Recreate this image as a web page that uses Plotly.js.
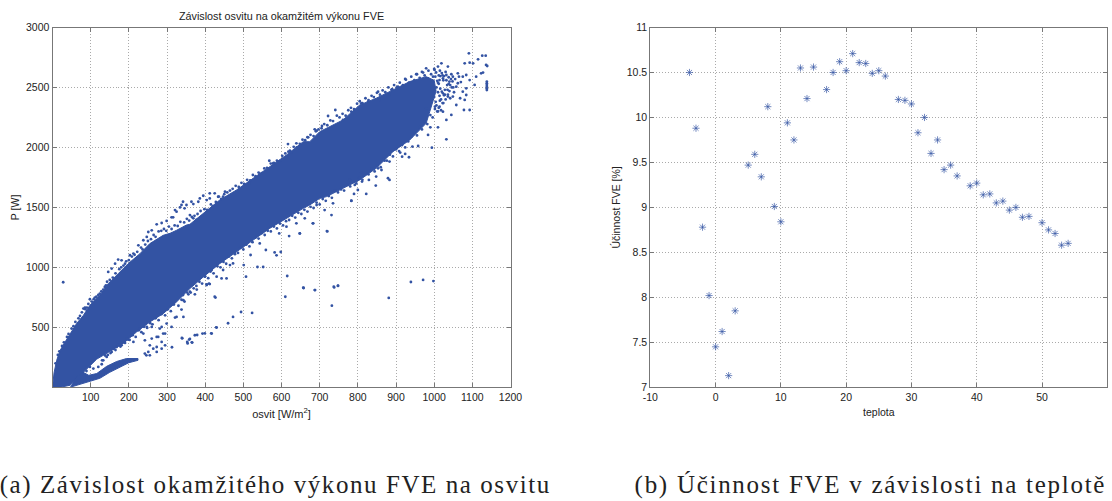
<!DOCTYPE html>
<html><head><meta charset="utf-8">
<script src="https://cdn.plot.ly/plotly-3.0.1.min.js"></script>
<style>html,body{margin:0;padding:0;background:#fff;overflow:hidden}#c{width:1112px;height:501px}
g.annotation[data-index="0"] text{letter-spacing:1.57px}
g.annotation[data-index="1"] text{letter-spacing:1.72px}
</style>
</head><body><div id="c"></div>
<script>
// Dense band of P against irradiance: outline
const bandOsvit = [0,4,11,20,33,46,63,81,98,124,146,172,198,229,255,290,308,325,351,360,395,438,482,526,569,613,657,674,700,718,761,805,848,892,936,979,1000,1005,995,985,979,936,892,848,805,761,718,700,674,657,613,569,526,482,438,395,360,325,290,255,220,185,150,116,81,46,20,0];
const bandP     = [0,120,225,308,378,447,531,600,684,767,864,947,1030,1114,1198,1267,1284,1309,1353,1359,1450,1561,1645,1742,1839,1937,2048,2048,2131,2160,2229,2354,2410,2479,2549,2590,2560,2470,2370,2270,2201,2062,1965,1826,1729,1659,1590,1575,1520,1492,1408,1325,1228,1131,1031,920,823,712,614,545,461,364,300,235,125,17,0,0];
// Lower thin branch of the cloud
const branchOsvit = [46,72,98,124,150,177,200,224,224,194,168,142,116,95,80,60];
const branchP     = [0,25,55,75,125,170,205,225,240,240,215,175,115,100,125,80];
// Separate points read individually
const ptOsvit = [28,81,85,98,111,124,137,146,155,164,172,181,203,212,225,238,251,260,273,286,299,190,247,
316,321,334,342,364,386,395,412,425,404,434,452,447,351,369,382,412,338,346,325,312,360,369,377,
568,617,639,670,692,578,543,515,622,644,
412,404,425,507,537,552,501,615,657,688,737,748,610,559,582,587,598,519,648,620,594,543,719,683,731,713,692,661,639,613,465,473,447,443,456,430,417,399,377,360,342,
1032,994,943,958,911,924,934,916,883,870,853,862,848,879,883,847,829,809,811,822,790,800,783,735,779,792,
1091,1126,1135,1136,1139,1115,1080,1093,1102,1019,1036,1010,979,1001,953,971,924,1110,1123,1128,1084,1062,1075,1049,1032,1023,1040,1062,1093,1106,1138,1138,1138,1138,1138,1138,1084,1075,1084,1068,1080,1058,1078,1093,1045,1023,1032,1010,990,984,979,1014,1036,1049,1058,1023,1014,997,984,853,890,905,883,809,827,857,741,722,706,687,761,783,
246,251,264,273,286,295,255,260,277,290,286,299,312,321,325,343,338,343,356,373,404,410,427,430,417,393,373,366,353,358,339,313,286,273,242,238,229,247,260,281,295,242,255,273,212,
120,129,107,98,89,133,142,155,168,181,198,207,
340,354,360,365,379,399,416,429,460,473,494,523,732,658,687,738,748,881,939,971,998,720,682,648,783];
const ptP = [876,656,664,734,748,781,837,962,990,1031,1065,1059,1101,1115,1184,1226,1295,1309,1359,1370,1387,1031,1254,
1417,1478,1500,1547,1547,1575,1597,1617,1617,1561,1589,1631,1589,1520,1528,1547,1575,1520,1492,1464,1417,1436,1409,1395,
1889,2028,2034,2084,2139,1867,1775,1700,1973,1992,
861,853,755,922,1003,1003,1019,928,830,811,839,847,755,1145,1125,1100,1128,1103,1283,1261,1283,1200,1303,1367,1436,1478,1520,1409,1367,1339,1019,1033,978,908,908,922,978,922,845,797,769,
2068,1998,2007,2012,1957,1946,1918,1923,1882,1890,1826,1812,1757,1743,1729,1682,1729,1790,1715,1612,1612,1645,1556,1534,1729,1687,
2785,2765,2765,2688,2679,2735,2701,2707,2701,2701,2674,2674,2660,2646,2610,2624,2571,2590,2618,2624,2604,2618,2590,2590,2604,2576,2549,2535,2562,2521,2549,2535,2521,2507,2493,2479,2493,2465,2437,2410,2396,2354,2312,2312,2271,2298,2229,2168,2168,2104,2326,2340,2424,2424,2507,2451,2562,2590,2576,2465,2485,2507,2437,2368,2382,2396,2312,2262,2179,2151,2229,2298,
267,295,322,336,322,350,350,406,420,448,503,531,503,581,587,587,648,726,775,775,859,865,748,498,448,448,434,373,378,398,411,334,378,420,392,448,490,503,503,490,448,281,267,295,378,
170,192,156,170,136,225,253,295,336,350,398,434,
408,366,403,375,436,450,450,500,534,587,628,620,681,828,811,833,845,745,878,895,886,1300,1367,1283,1554];
// Fuzzy top edge of the cloud
const topOsvit = [8,14,18,25,30,38,42,50,55,60,68,72,77,86,90,94,103,108,115,120,128,133,140,143,150,158,165,175,180,186,193,200,208,215,222,232,236,243,250,258,265,270,278,285,292,298,305,312,320,328,335,345,352,358,365,372,380,388,398,405,415,420,428,436,442,450,458,465,472,480,488,495,502,510,518,525,532,540,548,555,562,572,580,588,595,602,610,618,625,632,640,648,655,662,668,676,684,690,697,705,712,720,728,735,745,752,760,768,775,782,790,798,805,812,820,828,836,842,850,858,865,872,880,888,895,902,910,918,926,934,940,948,955,962,968,975,985,992,1000,1005,1015,1022,1030,1038,1045,1055,1065,1070];
const topP = [200,270,300,345,375,420,445,490,510,545,575,595,625,650,665,695,715,735,755,770,800,815,850,880,895,915,950,985,1000,1015,1050,1060,1090,1105,1130,1165,1150,1190,1220,1235,1270,1255,1300,1305,1320,1305,1340,1320,1350,1345,1380,1375,1405,1390,1420,1430,1445,1470,1485,1480,1525,1510,1545,1590,1570,1610,1625,1640,1655,1680,1670,1705,1695,1730,1725,1770,1760,1790,1785,1825,1830,1865,1870,1890,1885,1930,1950,1965,1960,2005,2000,2030,2065,2060,2085,2105,2095,2135,2150,2160,2195,2185,2225,2220,2265,2250,2280,2265,2310,2330,2320,2365,2385,2370,2410,2395,2430,2420,2455,2440,2475,2460,2500,2480,2520,2500,2540,2520,2565,2540,2590,2560,2610,2580,2630,2600,2640,2610,2655,2625,2640,2600,2630,2585,2610,2570,2590,2545];
// Fuzzy bottom edge of the cloud
const lowOsvit = [130,138,145,152,160,165,172,178,190,195,202,210,218,226,233,240,248,256,262,270,278,285,295,302,310,318,330,338,346,353,362,370,378,385,392,400,408,414,422,432,440,448,455,462,470,478,486,492,500,508,516,524,532,540,548,556,564,572,580,588,596,604,612,620,628,636,644,652,660,668,676,684,692,700,708,716,724,732,740,748,756,764,772,780,788,796,804,812,820,828,836,844,852,860,868,876,884,892,900,908,916,924,932,940,948,955,962,968,975,982,990,996,1002,1010,1015,1022,1028,1035,1042,1050];
const lowP = [225,265,270,285,320,310,355,340,370,405,395,435,420,475,460,505,495,535,525,575,560,610,600,650,635,690,680,730,715,790,790,825,815,880,865,925,910,965,950,1010,1000,1045,1030,1090,1075,1110,1120,1165,1150,1190,1175,1210,1250,1240,1285,1270,1305,1300,1340,1325,1365,1350,1385,1395,1430,1415,1455,1445,1480,1465,1505,1495,1540,1525,1570,1555,1595,1580,1640,1625,1650,1640,1690,1675,1715,1700,1745,1730,1790,1775,1820,1800,1850,1835,1905,1890,1940,1925,1985,1970,2020,2000,2050,2090,2120,2100,2170,2150,2215,2195,2270,2250,2320,2300,2390,2370,2440,2480,2520,2500];
// Thinning end of the cloud
const tipOsvit = [1003,1008,1012,1006,1016,1010,1020,1014,1026,1018,1030,1024,1034,1028,1040,1036,1046,1042,1052,1048,1006,1012,1018,1010,1024,1016,1000,1004,1008,1002,1012,1020,1026,1032,1038,1044];
const tipP = [2590,2555,2530,2500,2490,2460,2465,2430,2435,2400,2400,2370,2520,2480,2470,2440,2500,2410,2460,2550,2350,2330,2310,2540,2560,2595,2420,2380,2300,2340,2600,2620,2595,2560,2530,2570];
// Efficiency against temperature
const teplota = [-4,-3,-2,-1,0,1,2,3,5,6,7,8,9,10,11,12,13,14,15,17,18,19,20,21,22,23,24,25,26,28,29,30,31,32,33,34,35,36,37,39,40,41,42,43,44,45,46,47,48,50,51,52,53,54];
const ucinnost = [10.5,9.88,8.78,8.02,7.45,7.62,7.13,7.85,9.47,9.59,9.34,10.12,9.01,8.84,9.94,9.75,10.55,10.21,10.56,10.31,10.5,10.62,10.52,10.71,10.61,10.6,10.49,10.52,10.46,10.2,10.19,10.15,9.83,10.0,9.6,9.75,9.42,9.47,9.35,9.24,9.27,9.14,9.15,9.05,9.07,8.97,9.0,8.89,8.9,8.83,8.75,8.71,8.58,8.6];
const xTicksA = [100,200,300,400,500,600,700,800,900,1000,1100,1200];
const yTicksA = [500,1000,1500,2000,2500,3000];
const xTicksB = [-10,0,10,20,30,40,50,60];
const yTicksB = [7,7.5,8,8.5,9,9.5,10,10.5,11];
const yTickTextB = ['7','7.5','8','8.5','9','9.5','10','10.5','11'];

const blue = '#3353a3';
const W = 1112, H = 501;
const sans = 'Liberation Sans, Arial, sans-serif';
const axisBase = {
  showline:true, linecolor:'#777', linewidth:1, mirror:'ticks',
  ticks:'inside', ticklen:4, tickcolor:'#777', tickwidth:1,
  showgrid:true, gridcolor:'#aaa', griddash:'1px,2px', gridwidth:1,
  zeroline:false, tickfont:{family:sans,size:10.5,color:'#222'}
};
const mk = {color:blue,size:2.8};
const traces = [
 {x:bandOsvit,y:bandP,mode:'lines',fill:'toself',fillcolor:blue,line:{color:blue,width:1},xaxis:'x',yaxis:'y',hoverinfo:'skip'},
 {x:branchOsvit,y:branchP,mode:'lines',fill:'toself',fillcolor:blue,line:{color:blue,width:1},xaxis:'x',yaxis:'y',hoverinfo:'skip'},
 {x:ptOsvit,y:ptP,mode:'markers',marker:mk,xaxis:'x',yaxis:'y'},
 {x:topOsvit,y:topP,mode:'markers',marker:mk,xaxis:'x',yaxis:'y'},
 {x:lowOsvit,y:lowP,mode:'markers',marker:mk,xaxis:'x',yaxis:'y'},
 {x:tipOsvit,y:tipP,mode:'markers',marker:mk,xaxis:'x',yaxis:'y'},
 {x:teplota,y:ucinnost,mode:'markers',marker:{symbol:'asterisk-open',size:6,color:blue,opacity:0.75,line:{color:blue,width:0.9}},xaxis:'x2',yaxis:'y2'}
];
const layout = {
  width:W,height:H,margin:{l:0,r:0,t:0,b:0},paper_bgcolor:'#fff',plot_bgcolor:'#fff',showlegend:false,
  title:{text:'Závislost osvitu na okamžitém výkonu FVE',font:{family:sans,size:10.8,color:'#222'},x:281.5/W,xanchor:'center',xref:'paper',y:1-16/H,yanchor:'middle',yref:'container'},
  xaxis:Object.assign({},axisBase,{domain:[52.5/W,510.5/W],range:[0,1200],tickvals:xTicksA,ticktext:xTicksA.map(String),anchor:'y',
    title:{text:'osvit [W/m<sup>2</sup>]',font:{family:sans,size:11,color:'#222'},standoff:8}}),
  yaxis:Object.assign({},axisBase,{domain:[1-387.3/H,1-27.5/H],range:[0,3000],tickvals:yTicksA,ticktext:yTicksA.map(String),anchor:'x',
    title:{text:'P [W]',font:{family:sans,size:10.5,color:'#222'},standoff:4}}),
  xaxis2:Object.assign({},axisBase,{domain:[650.3/W,1107.3/W],range:[-10,60],tickvals:xTicksB,ticktext:xTicksB.map(String),anchor:'y2',
    title:{text:'teplota',font:{family:sans,size:10.5,color:'#222'},standoff:6}}),
  yaxis2:Object.assign({},axisBase,{domain:[1-387.3/H,1-27.5/H],range:[7,11],tickvals:yTicksB,ticktext:yTickTextB,anchor:'x2',
    title:{text:'Účinnost FVE [%]',font:{family:sans,size:10.5,color:'#222'},standoff:4}}),
  annotations:[
   {text:'(a) Závislost okamžitého výkonu FVE na osvitu',xref:'paper',yref:'paper',x:33/W,y:1-485/H,xanchor:'left',yanchor:'middle',showarrow:false,font:{family:'Liberation Serif, serif',size:25,color:'#222'}},
   {text:'(b) Účinnost FVE v závislosti na teplotě',xref:'paper',yref:'paper',x:667/W,y:1-485/H,xanchor:'left',yanchor:'middle',showarrow:false,font:{family:'Liberation Serif, serif',size:25,color:'#222'}}
  ]
};
Plotly.newPlot('c',traces,layout,{displayModeBar:false,responsive:false});
</script></body></html>
